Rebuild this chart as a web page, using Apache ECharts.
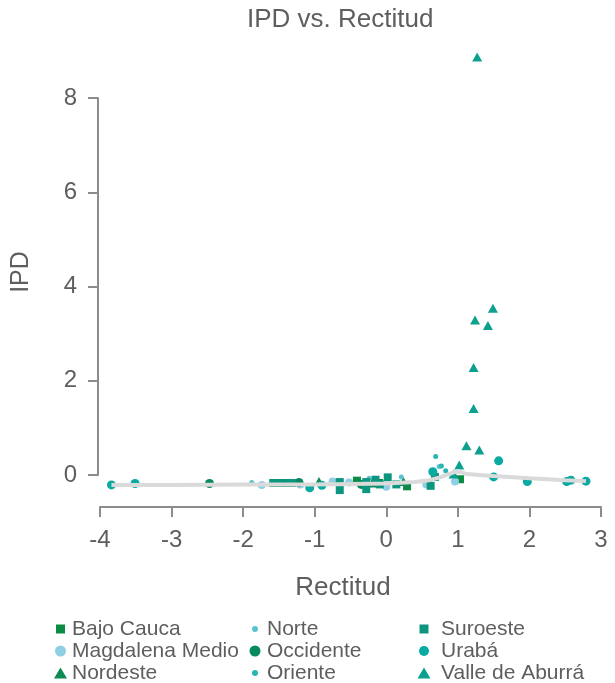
<!DOCTYPE html>
<html>
<head>
<meta charset="utf-8">
<script src="https://cdn.jsdelivr.net/npm/echarts@6/dist/echarts.min.js"></script>
<style>
  html, body { margin: 0; padding: 0; background: #fff; }
  #chart { width: 615px; height: 683px; }
</style>
</head>
<body>
<div id="chart"></div>
<script>
// Rectitud (x) vs IPD (y), one array of [x, y] pairs per subregion
const bajoCauca = [[-1.45, -0.17], [-0.41, -0.12], [-0.10, -0.17], [0.29, -0.24], [1.03, -0.09]];
const magdalenaMedio = [[-1.74, -0.21], [-1.20, -0.20], [-0.75, -0.14], [-0.52, -0.16], [0.00, -0.25],
  [0.56, -0.20], [0.59, -0.18], [0.96, -0.14]];
const nordeste = [[-0.94, -0.14], [-0.20, -0.17], [0.24, -0.14]];
const norte = [[-1.88, -0.16], [-1.20, -0.18], [-0.24, -0.07], [0.21, -0.04], [0.74, 0.18]];
const occidente = [[-2.47, -0.18], [-1.22, -0.16], [-0.35, -0.20]];
const oriente = [[-0.90, -0.20], [0.66, 0.07], [0.69, 0.39], [0.77, 0.19], [0.83, 0.09]];
const suroeste = [[-1.58, -0.17], [-1.50, -0.17], [-1.38, -0.17], [-1.32, -0.17], [-0.65, -0.15],
  [-0.65, -0.32], [-0.28, -0.15], [-0.28, -0.30], [-0.15, -0.10], [-0.09, -0.20], [0.02, -0.05],
  [0.14, -0.20], [0.62, -0.23], [0.68, -0.04]];
const uraba = [[-3.84, -0.21], [-3.51, -0.18], [-1.07, -0.27], [-0.90, -0.22], [0.65, 0.07], [1.50, -0.04],
  [1.57, 0.30], [1.97, -0.14], [2.52, -0.14], [2.58, -0.11], [2.79, -0.13]];
const valleAburra = [[0.94, 0.02], [1.02, 0.21], [1.12, 0.62], [1.30, 0.53], [1.22, 1.41], [1.22, 2.28],
  [1.42, 3.17], [1.24, 3.29], [1.49, 3.54], [1.27, 8.87]];

// smoothed trend
const trendX = [-3.84, -3.0, -2.0, -1.0, -0.5, 0.0, 0.4, 0.6, 0.75, 0.93, 1.0, 1.12, 1.5, 2.0, 2.5, 2.79];
const trendY = [-0.21, -0.21, -0.20, -0.20, -0.19, -0.18, -0.15, -0.11, -0.05, 0.05, 0.09, 0.02, -0.02, -0.07, -0.11, -0.13];

const xTicks = { min: -4, max: 3, step: 1 };
const yTicks = { min: 0, max: 8, step: 2 };

const regionNames = ['Bajo Cauca', 'Magdalena Medio', 'Nordeste', 'Norte', 'Occidente', 'Oriente',
  'Suroeste', 'Urabá', 'Valle de Aburrá'];
const regionData = [bajoCauca, magdalenaMedio, nordeste, norte, occidente, oriente, suroeste, uraba, valleAburra];

// marker styling per region
const regionStyle = [
  { color: '#0b8c45', symbol: 'rect', size: 8, legend: [9, 9] },
  { color: '#8dcfe3', symbol: 'circle', size: 8, legend: [11, 11] },
  { color: '#0e8a52', symbol: 'triangle', size: [10, 9], legend: [13, 11] },
  { color: '#5cc3cd', symbol: 'circle', size: 5, legend: [6, 6] },
  { color: '#07885f', symbol: 'circle', size: 9, legend: [11, 11] },
  { color: '#2ab5b5', symbol: 'circle', size: 5, legend: [6, 6] },
  { color: '#0c9680', symbol: 'rect', size: 8, legend: [9, 9] },
  { color: '#08aaa2', symbol: 'circle', size: 9, legend: [10, 10] },
  { color: '#0ca08f', symbol: 'triangle', size: [10, 9], legend: [13, 11] }
];

const FONT = '"Liberation Sans", Arial, sans-serif';
const TEXT = '#5e5e5e';
const AXIS = '#8c8c8c';

// legend grid: three columns, filled top to bottom
const colIconX = [60.5, 255, 424];
const colTextX = [72, 267, 441];
const rowTextY = [629, 651, 673];

const legends = regionNames.map((name, i) => {
  const col = Math.floor(i / 3), row = i % 3;
  const [w, h] = regionStyle[i].legend;
  const left = colIconX[col] - w / 2;
  const pl = colTextX[col] - (left + w + 5);
  return {
    data: [{ name: name, icon: regionStyle[i].symbol }],
    left: left,
    top: rowTextY[row] - 11,
    padding: 0,
    itemWidth: w,
    itemHeight: h,
    selectedMode: false,
    textStyle: { fontFamily: FONT, fontSize: 21, color: TEXT, lineHeight: 22, padding: [0, 0, 0, pl] }
  };
});

const scatterSeries = regionNames.map((name, i) => ({
  name: name,
  type: 'scatter',
  data: regionData[i],
  symbol: regionStyle[i].symbol,
  symbolSize: regionStyle[i].size,
  itemStyle: { color: regionStyle[i].color, opacity: 1 },
  clip: false,
  z: 2
}));

const chart = echarts.init(document.getElementById('chart'), null, { renderer: 'canvas' });
chart.setOption({
  animation: false,
  backgroundColor: '#ffffff',
  title: {
    text: 'IPD vs. Rectitud',
    left: 242,
    top: 2,
    textStyle: { fontFamily: FONT, fontSize: 26, fontWeight: 'normal', color: TEXT }
  },
  legend: legends,
  grid: { left: 100, right: 14, top: 98, bottom: 208 },
  xAxis: {
    type: 'value',
    min: xTicks.min, max: xTicks.max, interval: xTicks.step,
    offset: 32,
    splitLine: { show: false },
    axisLine: { show: true, onZero: false, lineStyle: { color: AXIS, width: 2 } },
    axisTick: { show: true, inside: false, length: 10, lineStyle: { color: AXIS, width: 2 } },
    axisLabel: { fontFamily: FONT, fontSize: 24, color: TEXT, margin: 21 },
    name: 'Rectitud',
    nameLocation: 'middle',
    nameGap: 68,
    nameTextStyle: { fontFamily: FONT, fontSize: 26, color: TEXT, padding: [0, 15, 0, 0] }
  },
  yAxis: {
    type: 'value',
    min: yTicks.min, max: yTicks.max, interval: yTicks.step,
    offset: 2,
    splitLine: { show: false },
    axisLine: { show: true, onZero: false, lineStyle: { color: AXIS, width: 2 } },
    axisTick: { show: true, inside: false, length: 10, lineStyle: { color: AXIS, width: 2 } },
    axisLabel: { fontFamily: FONT, fontSize: 24, color: TEXT, margin: 21 },
    name: 'IPD',
    nameLocation: 'middle',
    nameGap: 64,
    nameTextStyle: { fontFamily: FONT, fontSize: 25, color: TEXT, padding: [0, 0, 0, 29] }
  },
  series: scatterSeries.concat([{
    name: 'trend',
    type: 'line',
    data: trendX.map((x, i) => [x, trendY[i]]),
    symbol: 'none',
    smooth: false,
    clip: false,
    lineStyle: { color: '#dadada', width: 4 },
    z: 3,
    silent: true
  }])
});
</script>
</body>
</html>
